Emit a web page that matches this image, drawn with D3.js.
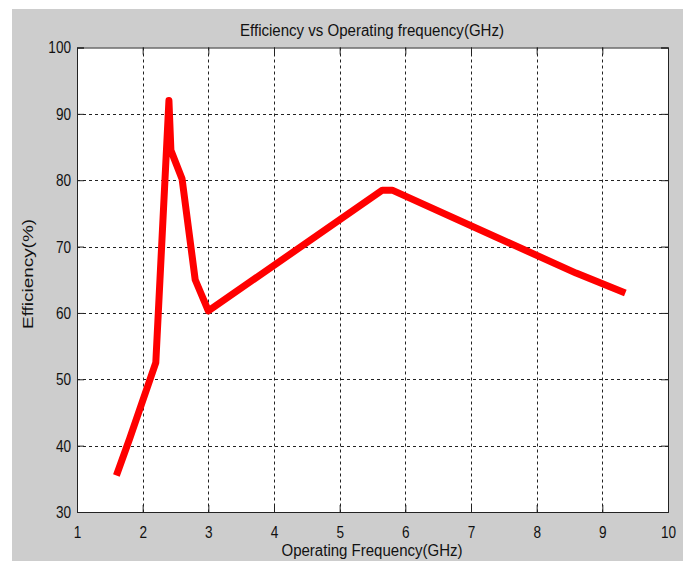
<!DOCTYPE html>
<html>
<head>
<meta charset="utf-8">
<script src="https://cdn.jsdelivr.net/npm/d3@7"></script>
<style>
  html, body { margin: 0; padding: 0; background: #fff; }
  svg text { font-family: "Liberation Sans", Arial, sans-serif; fill: #111; }
</style>
</head>
<body>
<svg id="chart" width="686" height="561"></svg>
<script>
// data
const freqGHz = [1.6, 1.8, 2.2, 2.4, 2.43, 2.6, 2.8, 3.0, 5.65, 5.8, 8.6, 9.35];
const efficiency = [35.5, 41, 52.5, 92, 84.5, 80.2, 65, 60.3, 78.5, 78.5, 66, 63];
const xTicks = [1, 2, 3, 4, 5, 6, 7, 8, 9, 10];
const yTicks = [30, 40, 50, 60, 70, 80, 90, 100];

const svg = d3.select('#chart');
const width = +svg.attr('width');
const height = +svg.attr('height');

const margin = { left: 77, right: 668, top: 47.5, bottom: 512 };
const squeeze = 0.8; // glyphs in the reference are narrow

// grey figure background
svg.append('rect')
  .attr('x', 12).attr('y', 9)
  .attr('width', 671).attr('height', height - 9)
  .attr('fill', '#cdcdcd');

const x = d3.scaleLinear().domain([1, 10]).range([margin.left, margin.right]);
const y = d3.scaleLinear().domain([30, 100]).range([margin.bottom, margin.top]);

// plot area
svg.append('rect')
  .attr('x', margin.left).attr('y', margin.top)
  .attr('width', margin.right - margin.left)
  .attr('height', margin.bottom - margin.top)
  .attr('fill', '#fff');

// Grid
const grid = svg.append('g').attr('stroke', '#222').attr('stroke-width', 1).attr('stroke-dasharray', '3,3');
grid.selectAll('.gx')
  .data(xTicks.slice(1, -1))
  .enter().append('line')
  .attr('x1', d => Math.round(x(d)) + 0.5).attr('x2', d => Math.round(x(d)) + 0.5)
  .attr('y1', margin.top).attr('y2', margin.bottom);
grid.selectAll('.gy')
  .data(yTicks.slice(1, -1))
  .enter().append('line')
  .attr('y1', d => Math.round(y(d)) + 0.5).attr('y2', d => Math.round(y(d)) + 0.5)
  .attr('x1', margin.left).attr('x2', margin.right);

// Axes (ticks inward on all four sides)
const tick = 7;
const xAxis = svg.append('g')
  .attr('transform', `translate(0, ${margin.bottom})`)
  .call(d3.axisBottom(x).tickValues(xTicks).tickSize(-tick).tickPadding(tick + 7));
svg.append('g')
  .attr('transform', `translate(0, ${margin.top})`)
  .call(d3.axisTop(x).tickValues(xTicks).tickSize(-tick).tickFormat(''));
const yAxis = svg.append('g')
  .attr('transform', `translate(${margin.left}, 0)`)
  .call(d3.axisLeft(y).tickValues(yTicks).tickSize(-tick).tickPadding(6));
svg.append('g')
  .attr('transform', `translate(${margin.right}, 0)`)
  .call(d3.axisRight(y).tickValues(yTicks).tickSize(-tick).tickFormat(''));

svg.selectAll('.domain').attr('stroke', '#222');
svg.selectAll('.tick line').attr('stroke', '#222');
svg.selectAll('.tick text')
  .attr('font-size', 17).attr('fill', '#111')
  .style('font-family', '"Liberation Sans", Arial, sans-serif');

// squeeze tick labels horizontally, keeping their anchor point
xAxis.selectAll('.tick text').attr('transform', `scale(${squeeze},1)`);
yAxis.selectAll('.tick text')
  .attr('x', -6 / squeeze)
  .attr('transform', `scale(${squeeze},1)`);

// Line
const line = d3.line()
  .x((d, i) => x(freqGHz[i]))
  .y(d => y(d));

svg.append('path')
  .datum(efficiency)
  .attr('d', line)
  .attr('fill', 'none')
  .attr('stroke', '#ff0000')
  .attr('stroke-width', 7)
  .attr('stroke-linejoin', 'round');

// Labels
svg.append('text')
  .attr('x', 372).attr('y', 36)
  .attr('text-anchor', 'middle')
  .attr('font-size', 16)
  .attr('textLength', 264).attr('lengthAdjust', 'spacingAndGlyphs')
  .text('Efficiency vs Operating frequency(GHz)');

svg.append('text')
  .attr('x', 372).attr('y', 556)
  .attr('text-anchor', 'middle')
  .attr('font-size', 16)
  .attr('textLength', 181).attr('lengthAdjust', 'spacingAndGlyphs')
  .text('Operating Frequency(GHz)');

svg.append('text')
  .attr('transform', 'translate(33, 274) rotate(-90)')
  .attr('text-anchor', 'middle')
  .attr('font-size', 15)
  .attr('textLength', 110).attr('lengthAdjust', 'spacingAndGlyphs')
  .text('Efficiency(%)');
</script>
</body>
</html>
